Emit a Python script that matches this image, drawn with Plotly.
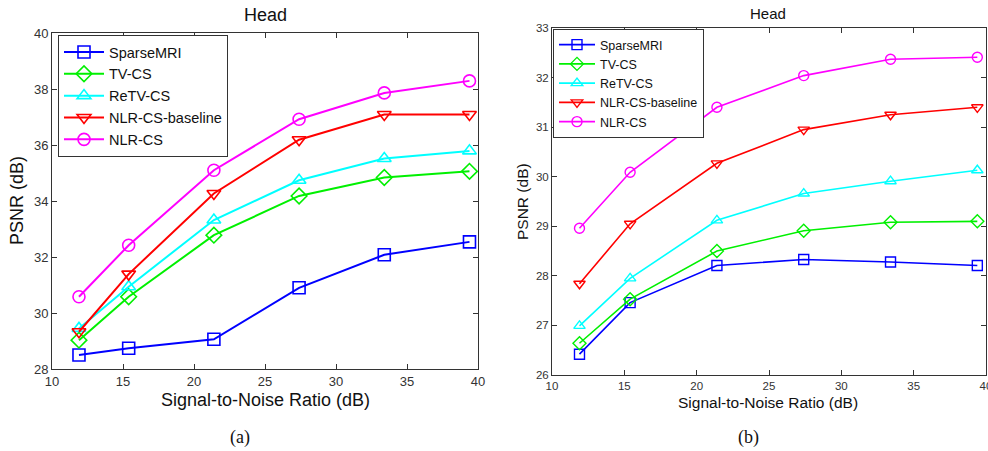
import plotly.graph_objects as go

snr = [11.9, 15.4, 21.4, 27.4, 33.4, 39.4]
methods = ["SparseMRI", "TV-CS", "ReTV-CS", "NLR-CS-baseline", "NLR-CS"]

psnr_a = {
    "SparseMRI":       [28.50, 28.74, 29.06, 30.90, 32.08, 32.54],
    "TV-CS":           [29.03, 30.58, 32.78, 34.18, 34.84, 35.06],
    "ReTV-CS":         [29.45, 30.94, 33.32, 34.74, 35.52, 35.79],
    "NLR-CS-baseline": [29.33, 31.39, 34.27, 36.19, 37.09, 37.09],
    "NLR-CS":          [30.58, 32.42, 35.10, 36.92, 37.86, 38.29],
}
psnr_b = {
    "SparseMRI":       [26.42, 27.46, 28.21, 28.33, 28.28, 28.21],
    "TV-CS":           [26.64, 27.53, 28.50, 28.91, 29.08, 29.10],
    "ReTV-CS":         [26.99, 27.95, 29.12, 29.66, 29.91, 30.13],
    "NLR-CS-baseline": [27.84, 29.05, 30.27, 30.95, 31.25, 31.40],
    "NLR-CS":          [28.96, 30.09, 31.40, 32.04, 32.37, 32.41],
}

colors = {"SparseMRI": "#0000ff", "TV-CS": "#00f000", "ReTV-CS": "#00ffff",
          "NLR-CS-baseline": "#ff0000", "NLR-CS": "#ff00ff"}
symbols = {"SparseMRI": "square-open", "TV-CS": "diamond-open", "ReTV-CS": "triangle-up-open",
           "NLR-CS-baseline": "triangle-down-open", "NLR-CS": "circle-open"}

W, H = 988, 451
FONT = "Liberation Sans, Arial, sans-serif"
fig = go.Figure()

for m in methods:
    fig.add_trace(go.Scatter(x=snr, y=psnr_a[m], name=m, mode="lines+markers",
                             line=dict(color=colors[m], width=2),
                             marker=dict(symbol=symbols[m], size=12, color=colors[m], line=dict(width=1.6)),
                             xaxis="x", yaxis="y", legend="legend"))
for m in methods:
    fig.add_trace(go.Scatter(x=snr, y=psnr_b[m], name=m, mode="lines+markers",
                             line=dict(color=colors[m], width=1.6),
                             marker=dict(symbol=symbols[m], size=10, color=colors[m], line=dict(width=1.4)),
                             xaxis="x2", yaxis="y2", legend="legend2"))

def px(x):
    return x / W

def py(y):
    return 1 - y / H

axcommon = dict(showline=True, linecolor="#333333", linewidth=1, mirror="ticks", ticks="inside",
                tickcolor="#333333", showgrid=False, zeroline=False, ticklabeloverflow="allow",
                automargin=False)

fig.update_layout(
    width=W, height=H, margin=dict(l=0, r=0, t=0, b=0, autoexpand=False),
    paper_bgcolor="white", plot_bgcolor="white", showlegend=True,
    font=dict(family=FONT, color="#222222"),
    xaxis=dict(domain=[px(52), px(478)], range=[10, 40], tickvals=[10, 15, 20, 25, 30, 35, 40],
               ticklen=5, tickfont=dict(size=13, color="#333333"), anchor="y", **axcommon),
    yaxis=dict(domain=[py(369), py(33)], range=[28, 40], tickvals=[28, 30, 32, 34, 36, 38, 40],
               ticklen=5, tickfont=dict(size=13, color="#333333"), anchor="x", **axcommon),
    xaxis2=dict(domain=[px(552), px(986)], range=[10, 40], tickvals=[10, 15, 20, 25, 30, 35, 40],
                ticklen=5, tickfont=dict(size=11.5, color="#333333"), anchor="y2", **axcommon),
    yaxis2=dict(domain=[py(375), py(28)], range=[26, 33], tickvals=[26, 27, 28, 29, 30, 31, 32, 33],
                ticklen=5, tickfont=dict(size=11.5, color="#333333"), anchor="x2", **axcommon),
    legend=dict(x=px(58), y=py(35), xanchor="left", yanchor="top", bgcolor="white",
                bordercolor="#333333", borderwidth=1, font=dict(size=14.5, color="#111111"),
                itemwidth=40, tracegroupgap=0),
    legend2=dict(x=px(553), y=py(29), xanchor="left", yanchor="top", bgcolor="white",
                 bordercolor="#333333", borderwidth=1, font=dict(size=12.5, color="#111111"),
                 itemwidth=36, tracegroupgap=0),
)

ann = [
    dict(text="Head", x=px(265), y=py(15), size=18),
    dict(text="Head", x=px(768), y=py(14), size=15),
    dict(text="Signal-to-Noise Ratio (dB)", x=px(265), y=py(400), size=18),
    dict(text="Signal-to-Noise Ratio (dB)", x=px(768), y=py(402), size=15.5),
]
for a in ann:
    fig.add_annotation(text=a["text"], x=a["x"], y=a["y"], xref="paper", yref="paper",
                       xanchor="center", yanchor="middle", showarrow=False,
                       font=dict(family=FONT, size=a["size"], color="#111111"))
fig.add_annotation(text="PSNR (dB)", x=px(17), y=py(201), xref="paper", yref="paper", textangle=-90,
                   xanchor="center", yanchor="middle", showarrow=False,
                   font=dict(family=FONT, size=18, color="#111111"))
fig.add_annotation(text="PSNR (dB)", x=px(522), y=py(202), xref="paper", yref="paper", textangle=-90,
                   xanchor="center", yanchor="middle", showarrow=False,
                   font=dict(family=FONT, size=15.5, color="#111111"))
for t, xx in [("(a)", 240), ("(b)", 748)]:
    fig.add_annotation(text=t, x=px(xx), y=py(437), xref="paper", yref="paper",
                       xanchor="center", yanchor="middle", showarrow=False,
                       font=dict(family="Liberation Serif, Times New Roman, serif", size=18, color="#111111"))

fig.write_html("out.html",
               post_script="document.body.style.margin='0';document.body.style.overflow='hidden';")
